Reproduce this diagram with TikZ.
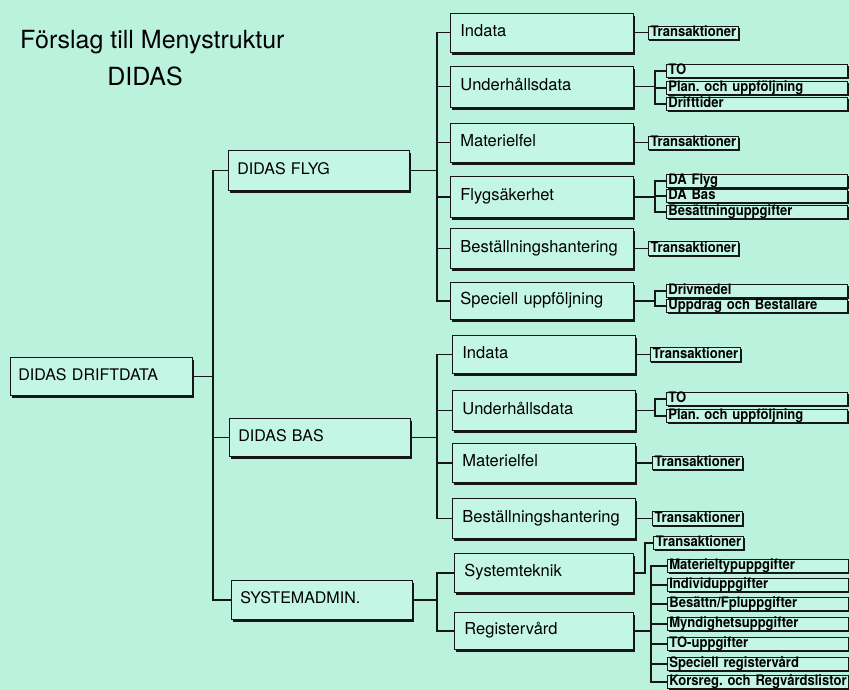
\documentclass[tikz,border=0pt]{standalone}
\usepackage{fontspec}
\setmainfont{TeX Gyre Heros}
\newfontfamily\narrowfont[FakeStretch=0.9]{TeX Gyre Heros}
\usetikzlibrary{shadows,positioning}
\definecolor{bg}{RGB}{186,242,222}
\definecolor{boxfill}{RGB}{196,246,229}
\definecolor{ink}{RGB}{22,22,22}
\frenchspacing
\begin{document}
\begin{tikzpicture}[x=1pt,y=-1pt,
  conn/.style={draw=ink, line width=1.2pt},
  bigbox/.style={draw=ink, line width=0.8pt, fill=boxfill, anchor=north west,
    align=left, inner ysep=0pt, text height=11.5pt, text depth=3.5pt,
    drop shadow={shadow xshift=2pt, shadow yshift=-3pt, fill=ink, opacity=1}},
  lvone/.style={bigbox, font=\fontsize{16}{18}\selectfont, inner xsep=9pt, text width=163pt},
  lvtwo/.style={bigbox, font=\fontsize{16.5}{18}\selectfont, inner xsep=10pt, text width=163pt},
  smallbox/.style={draw=ink, line width=0.7pt, fill=boxfill, anchor=west,
    align=left, inner xsep=2.5pt, inner ysep=0pt, minimum height=13.5pt,
    font=\narrowfont\bfseries\fontsize{14.5}{15}\selectfont, text height=10.2pt, text depth=2.6pt,
    execute at begin node={\hyphenpenalty=10000\exhyphenpenalty=10000},
    drop shadow={shadow xshift=1.3pt, shadow yshift=-1.6pt, fill=ink, opacity=1}},
  longbox/.style={smallbox, inner xsep=2pt, text width=177pt},
  title/.style={font=\fontsize{25}{28}\selectfont, inner sep=0pt}
]
\useasboundingbox (0,0) rectangle (849,690);
\fill[bg] (0,0) rectangle (849,690);

% title
\node[title, anchor=base west] (t1) at (20,49) {Förslag till Menystruktur};
\node[title, anchor=base] (t2) at (145,86) {DIDAS};

% bus coordinates
\coordinate (rb) at (213,0);
\coordinate (lb) at (437,0);
\coordinate (fk) at (655,0);
\coordinate (sx) at (645,0);
\coordinate (rk) at (651,0);

% root and level 1
\node[lvone, inner xsep=8pt, text width=166pt, minimum height=38pt] (root) at (10,357) {DIDAS DRIFTDATA};
\node[lvone, minimum height=40pt] (flyg) at (228,150) {DIDAS FLYG};
\node[lvone, minimum height=38pt] (bas) at (229,418) {DIDAS BAS};
\node[lvone, minimum height=39pt] (sys) at (231,580) {SYSTEMADMIN.};

% level 2: FLYG
\node[lvtwo, minimum height=39pt] (f1) at (450,13) {Indata};
\node[lvtwo, minimum height=41pt] (f2) at (450,66) {Underhållsdata};
\node[lvtwo, minimum height=39pt] (f3) at (450,123) {Materielfel};
\node[lvtwo, minimum height=41pt] (f4) at (450,176) {Flygsäkerhet};
\node[lvtwo, minimum height=40pt] (f5) at (450,228) {Beställningshantering};
\node[lvtwo, minimum height=37pt] (f6) at (450,282) {Speciell uppföljning};

% level 2: BAS
\node[lvtwo, minimum height=38pt] (b1) at (452,335) {Indata};
\node[lvtwo, minimum height=40pt] (b2) at (452,390) {Underhållsdata};
\node[lvtwo, minimum height=39pt] (b3) at (452,443) {Materielfel};
\node[lvtwo, minimum height=40pt] (b4) at (452,498) {Beställningshantering};

% level 2: SYSTEMADMIN
\node[lvtwo, text width=159pt, minimum height=39pt] (s1) at (454,553) {Systemteknik};
\node[lvtwo, text width=159pt, minimum height=37pt] (s2) at (454,612) {Registervård};

% level 3
\node[smallbox, right=14pt of f1] (f1t) {Transaktioner};
\node[longbox] (f2a) at (666,71) {TO};
\node[longbox] (f2b) at (666,88) {Plan. och uppföljning};
\node[longbox] (f2c) at (666,104) {Drifttider};
\node[smallbox, right=14pt of f3] (f3t) {Transaktioner};
\node[longbox] (f4a) at (666,181) {DA Flyg};
\node[longbox] (f4b) at (666,196) {DA Bas};
\node[longbox] (f4c) at (666,212) {Besättninguppgifter};
\node[smallbox, right=14pt of f5] (f5t) {Transaktioner};
\node[longbox] (f6a) at (666,291) {Drivmedel};
\node[longbox] (f6b) at (666,306) {Uppdrag och Beställare};

\node[smallbox, right=14pt of b1] (b1t) {Transaktioner};
\node[longbox] (b2a) at (666,399) {TO};
\node[longbox] (b2b) at (666,416) {Plan. och uppföljning};
\node[smallbox, right=16pt of b3] (b3t) {Transaktioner};
\node[smallbox, right=16pt of b4] (b4t) {Transaktioner};

\node[smallbox] (s1t) at (653,543) {Transaktioner};
\node[longbox] (r1) at (667,566) {Materieltypuppgifter};
\node[longbox] (r2) at (667,585) {Individuppgifter};
\node[longbox] (r3) at (667,604) {Besättn/Fpluppgifter};
\node[longbox] (r4) at (667,624) {Myndighetsuppgifter};
\node[longbox] (r5) at (667,644) {TO-uppgifter};
\node[longbox] (r6) at (667,664) {Speciell registervård};
\node[longbox] (r7) at (667,682) {\mbox{Korsreg. och Regvårdslistor}};

% connectors root -> level 1
\foreach \c in {flyg,bas,sys}
  \draw[conn] (root.east) -- (root.east -| rb) |- (\c.west);

% level 1 -> level 2
\foreach \c in {f1,f2,f3,f4,f5,f6}
  \draw[conn] (flyg.east) -- (flyg.east -| lb) |- (\c.west);
\foreach \c in {b1,b2,b3,b4}
  \draw[conn] (bas.east) -- (bas.east -| lb) |- (\c.west);
\foreach \c in {s1,s2}
  \draw[conn] (sys.east) -- (sys.east -| lb) |- (\c.west);

% level 2 -> level 3
\foreach \p/\c in {f1/f1t,f3/f3t,f5/f5t,b1/b1t,b3/b3t,b4/b4t}
  \draw[conn] (\p.east) -- (\c.west);
\foreach \c in {f2a,f2b,f2c}
  \draw[conn] (f2.east) -- (f2.east -| fk) |- (\c.west);
\foreach \c in {f4a,f4b,f4c}
  \draw[conn] (f4.east) -- (f4.east -| fk) |- (\c.west);
\foreach \c in {f6a,f6b}
  \draw[conn] (f6.east) -- (f6.east -| fk) |- (\c.west);
\foreach \c in {b2a,b2b}
  \draw[conn] (b2.east) -- (b2.east -| fk) |- (\c.west);
\draw[conn] (s1.east) -- (s1.east -| sx) |- (s1t.west);
\foreach \c in {r1,r2,r3,r4,r5,r6,r7}
  \draw[conn] (s2.east) -- (s2.east -| rk) |- (\c.west);
\end{tikzpicture}
\end{document}
